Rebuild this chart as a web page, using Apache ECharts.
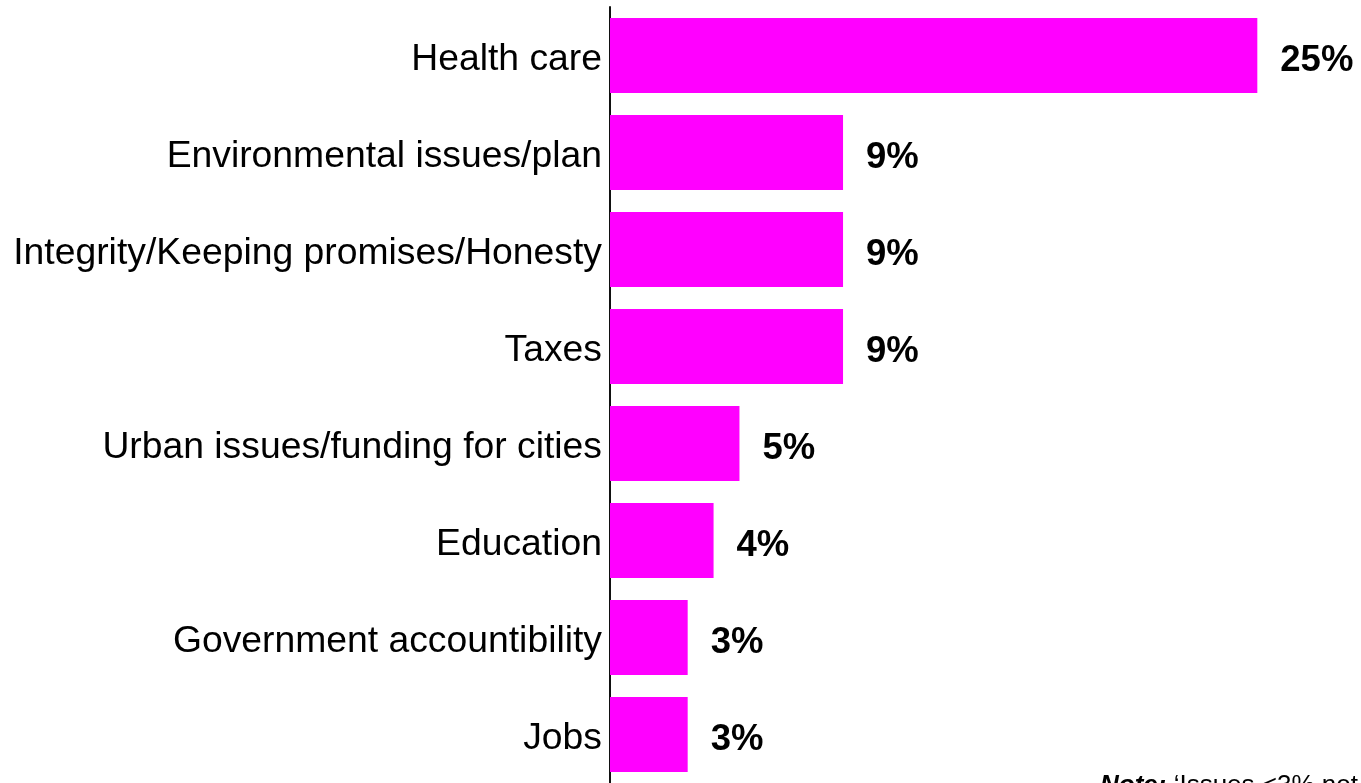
<!DOCTYPE html>
<html>
<head>
<meta charset="utf-8">
<script src="https://cdn.jsdelivr.net/npm/echarts@6/dist/echarts.min.js"></script>
<style>
html,body{margin:0;padding:0;background:#fff;}
#chart{width:1361px;height:783px;}
</style>
</head>
<body>
<div id="chart"></div>
<script>
const categories = [
  'Health care',
  'Environmental issues/plan',
  'Integrity/Keeping promises/Honesty',
  'Taxes',
  'Urban issues/funding for cities',
  'Education',
  'Government accountibility',
  'Jobs'
];
const values = [25, 9, 9, 9, 5, 4, 3, 3];

const chart = echarts.init(document.getElementById('chart'));
chart.setOption({
  animation: false,
  backgroundColor: '#ffffff',
  grid: { left: 610, top: 7, width: 725, height: 780 },
  xAxis: {
    type: 'value', min: 0, max: 28,
    show: false
  },
  yAxis: {
    type: 'category',
    data: categories,
    inverse: true,
    axisLine: { show: true, onZero: false, lineStyle: { color: '#111', width: 2 } },
    axisTick: { show: false },
    axisLabel: {
      margin: 8,
      formatter: function (v) { return '{a|' + v + '}'; },
      rich: {
        a: {
          padding: [8, 0, 0, 0],
          color: '#000',
          fontFamily: 'Liberation Sans, Arial, sans-serif',
          fontSize: 37.3
        }
      }
    },
    splitLine: { show: false }
  },
  series: [{
    type: 'bar',
    data: values,
    barWidth: 75,
    itemStyle: { color: '#ff00ff' },
    label: {
      show: true,
      position: 'right',
      distance: 23,
      offset: [0, 5],
      formatter: '{c}%',
      color: '#000',
      fontFamily: 'Liberation Sans, Arial, sans-serif',
      fontWeight: 'bold',
      fontSize: 36.5
    }
  }],
  graphic: [{
    type: 'text',
    left: 1100,
    top: 773,
    style: {
      text: '{b|Note:} ‘Issues <3% not shown’',
      fontFamily: 'Liberation Sans, Arial, sans-serif',
      fontSize: 26,
      fill: '#000',
      rich: {
        b: { fontWeight: 'bold', fontStyle: 'italic', fontSize: 26, fontFamily: 'Liberation Sans, Arial, sans-serif' }
      }
    }
  }]
});
</script>
</body>
</html>
